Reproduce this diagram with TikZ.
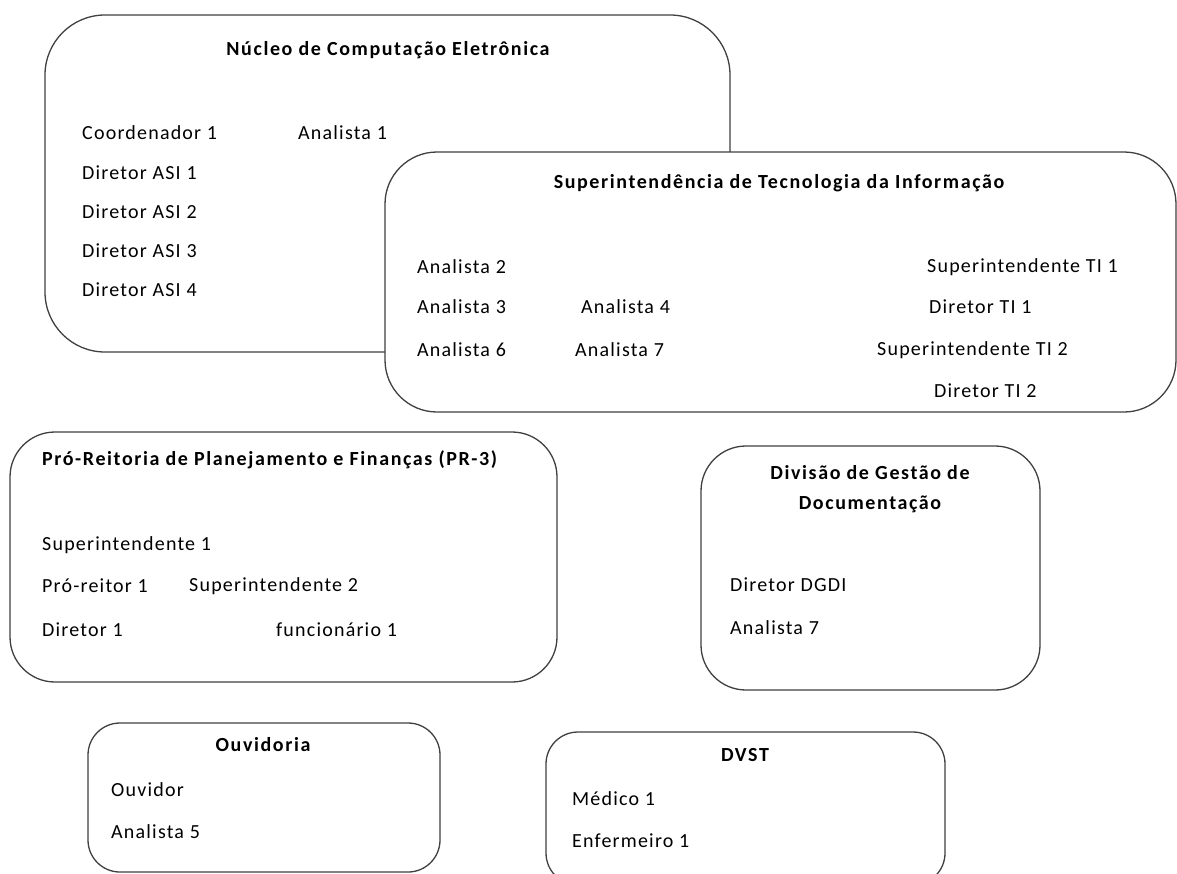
\documentclass[tikz,border=0pt]{standalone}
\usepackage{fontspec}
\setmainfont{Carlito}[LetterSpace=6]
\usetikzlibrary{positioning}

\begin{document}
\begin{tikzpicture}[x=1pt,y=-1pt,
    font=\fontsize{20}{30}\selectfont,
    unit/.style={draw=black!75,line width=1.3pt,fill=white,rounded corners=#1,inner sep=0pt},
    unit/.default=45pt,
    head/.style={font=\fontsize{20}{30}\selectfont\bfseries\addfontfeatures{LetterSpace=8},inner sep=0pt,align=center},
    member/.style={anchor=west,inner sep=0pt}]
  \useasboundingbox (0,0) rectangle (1177,873);

  % Nucleo de Computacao Eletronica
  \node [unit=60pt,minimum width=685pt,minimum height=337pt] (nce) at (387.5,183.5) {};
  \node [head] (nce-title) at (388,50) {Núcleo de Computação Eletrônica};
  \node [member] (coord1) at (82,133) {Coordenador 1};
  \node [member] (ana1)   at (298,133) {Analista 1};
  \foreach \i/\y in {1/173,2/212,3/251,4/290}
    \node [member] (dasi\i) at (82,\y) {Diretor ASI \i};

  % Superintendencia de TI (drawn on top)
  \node [unit=52pt,minimum width=791pt,minimum height=260pt] (sti) at (780.5,282) {};
  \node [head] (sti-title) at (779,183) {Superintendência de Tecnologia da Informação};
  \node [member] (ana2) at (417,267) {Analista 2};
  \node [member] (ana3) at (417,307) {Analista 3};
  \node [member] (ana4) at (581,307) {Analista 4};
  \node [member] (ana6) at (417,350) {Analista 6};
  \node [member] (ana7) at (575,350) {Analista 7};
  \node [member] (sti1) at (927,267) {Superintendente TI 1};
  \node [member] (dti1) at (929,307) {Diretor TI 1};
  \node [member] (sti2) at (877,350) {Superintendente TI 2};
  \node [member] (dti2) at (934,391) {Diretor TI 2};

  % Pro-Reitoria PR-3
  \node [unit,minimum width=547pt,minimum height=250pt] (prf) at (283.5,557) {};
  \node [head,anchor=west] (prf-title) at (42,460) {Pró-Reitoria de Planejamento e Finanças (PR-3)};
  \node [member] (sup1)  at (42,545)  {Superintendente 1};
  \node [member] (prr1)  at (42,586)  {Pró-reitor 1};
  \node [member] (sup2)  at (189,586) {Superintendente 2};
  \node [member] (dir1)  at (42,630)  {Diretor 1};
  \node [member] (func1) at (276,630) {funcionário 1};

  % Divisao de Gestao de Documentacao
  \node [unit,minimum width=339pt,minimum height=244pt] (dgd) at (870.5,568) {};
  \node [head] (dgd-title) at (870,489) {Divisão de Gestão de\\Documentação};
  \node [member] (dgdi)  at (730,585) {Diretor DGDI};
  \node [member] (ana7b) at (730,628) {Analista 7};

  % Ouvidoria
  \node [unit=32pt,minimum width=352pt,minimum height=149pt] (ouv) at (264,797.5) {};
  \node [head] (ouv-title) at (263,745) {Ouvidoria};
  \node [member] (ouvidor) at (111,790) {Ouvidor};
  \node [member] (ana5)    at (111,832) {Analista 5};

  % DVST
  \node [unit=32pt,minimum width=399pt,minimum height=153pt] (dvst) at (745.5,808.5) {};
  \node [head] (dvst-title) at (745,755) {DVST};
  \node [member] (med1) at (572,799) {Médico 1};
  \node [member] (enf1) at (572,841) {Enfermeiro 1};

\end{tikzpicture}
\end{document}
